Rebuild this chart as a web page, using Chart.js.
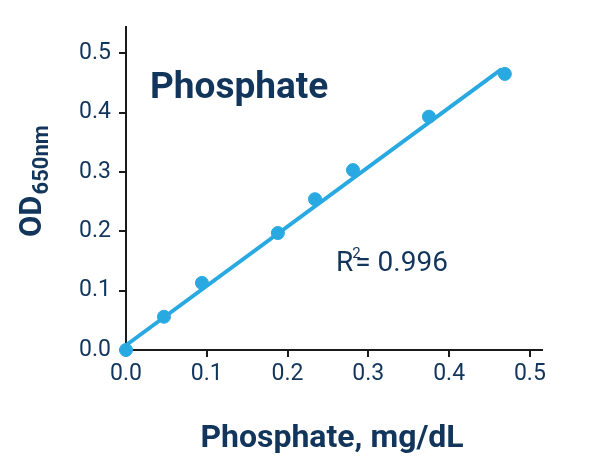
<!DOCTYPE html>
<html lang="en">
<head>
    <meta charset="UTF-8">
    <title>Phosphate standard curve</title>
    <script src="https://cdn.jsdelivr.net/npm/chart.js"></script>
    <style>
        html, body { margin: 0; padding: 0; background: #fff; }
        .wrap { width: 590px; height: 473px; position: relative; }
    </style>
</head>
<body>
    <div class="wrap">
        <canvas id="stdCurve"></canvas>
    </div>

    <script>
        // standards (mg/dL) and measured OD650
        const concentrations = [0, 0.047, 0.094, 0.188, 0.234, 0.281, 0.375, 0.469];
        const odValues = [0.000, 0.056, 0.113, 0.197, 0.254, 0.303, 0.393, 0.465];

        // linear fit, start and end
        const fitX = [0, 0.465];
        const fitY = [0.008, 0.473];

        const xTicks = [0, 0.1, 0.2, 0.3, 0.4, 0.5];
        const yTicks = [0, 0.1, 0.2, 0.3, 0.4, 0.5];

        const blue = '#29a9e1';
        const navy = '#12355b';
        const axisColor = '#1a1a1a';

        // titles and the R² label
        const labelsPlugin = {
            id: 'labels',
            afterDraw(chart) {
                const ctx = chart.ctx;
                ctx.save();
                ctx.fillStyle = navy;
                ctx.textBaseline = 'alphabetic';

                ctx.font = 'bold 37px Roboto';
                ctx.textAlign = 'left';
                ctx.fillText('Phosphate', 150, 98);

                ctx.font = 'bold 32px Roboto';
                ctx.textAlign = 'center';
                ctx.fillText('Phosphate, mg/dL', 332, 447);

                // R² = 0.996
                ctx.textAlign = 'left';
                ctx.font = '28px Roboto';
                ctx.fillText('R', 336, 271);
                let w = ctx.measureText('R').width;
                ctx.font = '15px Roboto';
                ctx.fillText('2', 336 + w - 1, 258);
                ctx.font = '28px Roboto';
                ctx.fillText('= 0.996', 336 + w + 2, 271);

                // OD650nm, rotated
                ctx.translate(41, 237);
                ctx.rotate(-Math.PI / 2);
                ctx.font = 'bold 31px Roboto';
                ctx.fillText('OD', 0, 0);
                w = ctx.measureText('OD').width;
                ctx.font = 'bold 22px Roboto';
                ctx.fillText('650nm', w + 1, 7);
                ctx.restore();
            }
        };

        const tickStyle = {
            color: navy,
            font: { family: 'Roboto', size: 23 }
        };

        new Chart(document.getElementById('stdCurve'), {
            type: 'scatter',
            data: {
                datasets: [
                    {
                        label: 'Points',
                        data: concentrations.map((c, i) => ({ x: c, y: odValues[i] })),
                        backgroundColor: blue,
                        borderColor: blue,
                        pointRadius: 6.5,
                        pointHoverRadius: 6.5,
                        clip: false,
                        order: 1
                    },
                    {
                        label: 'Fit',
                        data: fitX.map((c, i) => ({ x: c, y: fitY[i] })),
                        showLine: true,
                        borderColor: blue,
                        borderWidth: 4,
                        pointRadius: 0,
                        clip: false,
                        order: 2
                    }
                ]
            },
            options: {
                responsive: true,
                maintainAspectRatio: false,
                animation: false,
                devicePixelRatio: 1,
                layout: { padding: { top: 27, right: 48, left: 0, bottom: 0 } },
                plugins: {
                    legend: { display: false },
                    tooltip: { enabled: false }
                },
                scales: {
                    x: {
                        type: 'linear',
                        min: 0,
                        max: 0.515,
                        afterFit(scale) { scale.height = 123; },
                        afterBuildTicks(scale) { scale.ticks = xTicks.map(v => ({ value: v })); },
                        ticks: {
                            ...tickStyle,
                            padding: 3,
                            maxRotation: 0,
                            callback: v => v.toFixed(1)
                        },
                        grid: {
                            drawOnChartArea: false,
                            drawTicks: true,
                            tickLength: 7,
                            color: axisColor,
                            lineWidth: 2
                        },
                        border: { display: true, color: axisColor, width: 2 }
                    },
                    y: {
                        type: 'linear',
                        min: 0,
                        max: 0.544,
                        afterFit(scale) { scale.width = 126; },
                        afterBuildTicks(scale) { scale.ticks = yTicks.map(v => ({ value: v })); },
                        ticks: {
                            ...tickStyle,
                            padding: 8,
                            callback: v => v.toFixed(1)
                        },
                        grid: {
                            drawOnChartArea: false,
                            drawTicks: true,
                            tickLength: 7,
                            color: axisColor,
                            lineWidth: 2
                        },
                        border: { display: true, color: axisColor, width: 2 }
                    }
                }
            },
            plugins: [labelsPlugin]
        });
    </script>
</body>
</html>
